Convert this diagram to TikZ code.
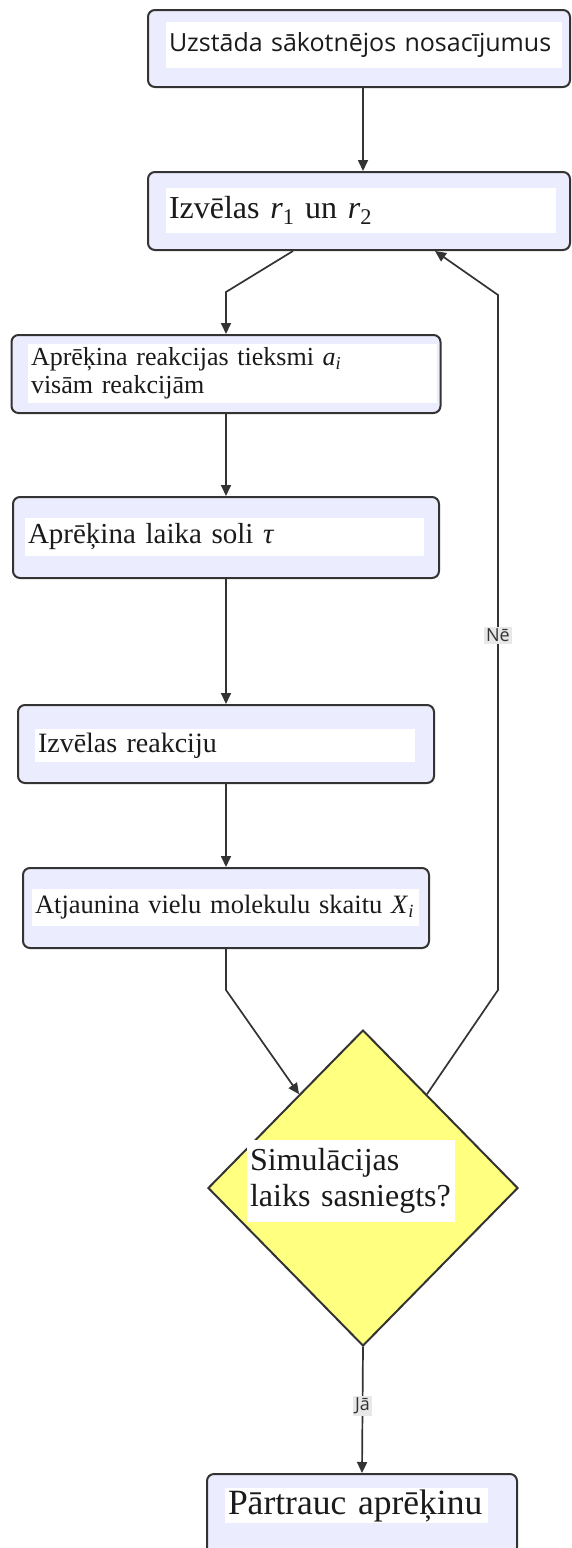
\documentclass[tikz,border=0pt]{standalone}
\usepackage{fontspec}
\setmainfont{Liberation Serif}
\newfontfamily\uisans{Open Sans}
\usetikzlibrary{arrows.meta, positioning, shapes.geometric, calc}

\definecolor{boxfill}{HTML}{ECECFF}
\definecolor{edgegray}{HTML}{333333}
\definecolor{diafill}{HTML}{FFFF80}
\definecolor{lblgray}{HTML}{E8E8E8}
\definecolor{textblack}{HTML}{1A1A1A}

% italic variable with subscript
\newcommand{\ivar}[2]{\textit{#1}\textsubscript{#2}}

\begin{document}
\begin{tikzpicture}[x=1pt, y=-1pt,
  bx/.style={draw=edgegray, fill=boxfill, line width=2pt,
             rounded corners=7pt, inner sep=0pt},
  tx/.style={fill=white, inner xsep=3pt, inner ysep=0pt,
             align=left, text=textblack},
  flow/.style={draw=edgegray, line width=1.7pt,
               -{Triangle[length=11pt, width=10pt]}},
  lbl/.style={fill=lblgray, text=edgegray, inner sep=2pt,
              font=\uisans\fontsize{18}{20}\selectfont}
]
\useasboundingbox (0,0) rectangle (571,1548);

% Process boxes
\node[bx, minimum width=422pt, minimum height=77pt] (start) at (359,48.5) {};
\node[bx, minimum width=422pt, minimum height=78pt] (pick)  at (359,211) {};
\node[bx, minimum width=429pt, minimum height=78pt] (rates) at (226,374) {};
\node[bx, minimum width=426pt, minimum height=81pt] (tau)   at (226,537.5) {};
\node[bx, minimum width=416pt, minimum height=78pt] (pickr) at (226,744) {};
\node[bx, minimum width=406pt, minimum height=80pt] (upd)   at (226,908) {};
\node[bx, minimum width=310pt, minimum height=80pt] (stop)  at (362,1514) {};

% Decision
\node[draw=edgegray, fill=diafill, line width=2pt, diamond,
      minimum width=310pt, minimum height=316pt, inner sep=0pt]
  (decision) at (363,1188) {};

% Texts
\node[tx, text width=390pt, minimum height=46pt,
      font=\uisans\fontsize{25}{28}\selectfont] (start-t) at (364,45)
  {Uzstāda sākotnējos nosacījumus};
\node[tx, text width=384pt, minimum height=45pt,
      font=\fontsize{32}{36}\selectfont] (pick-t) at (361,210.5)
  {Izvēlas \ivar{r}{1} un \ivar{r}{2}};
\node[tx, text width=403pt, minimum height=59pt,
      font=\fontsize{26}{28}\selectfont] (rates-t) at (232.5,373.5)
  {Aprēķina reakcijas tieksmi \ivar{a}{\textit{i}}\\visām reakcijām};
\node[tx, text width=393pt, minimum height=38pt,
      font=\fontsize{29}{32}\selectfont] (tau-t) at (224.5,537)
  {Aprēķina laika soli \textit{τ}};
\node[tx, text width=374pt, minimum height=33pt,
      font=\fontsize{28}{31}\selectfont] (pickr-t) at (225,745.5)
  {Izvēlas reakciju};
\node[tx, text width=381pt, minimum height=37pt,
      font=\fontsize{26.5}{30}\selectfont] (upd-t) at (225.5,907.5)
  {Atjaunina vielu molekulu skaitu \ivar{X}{\textit{i}}};
\node[tx, text width=202pt, minimum height=82pt,
      font=\fontsize{32}{36}\selectfont] (decision-t) at (351,1181)
  {\mbox{Simulācijas}\\\mbox{laiks sasniegts?}};
\node[tx, text width=257pt, minimum height=35pt,
      font=\fontsize{35.5}{38}\selectfont] (stop-t) at (356.5,1505.5)
  {\mbox{Pārtrauc aprēķinu}};

% Bends
\coordinate (k1) at (226,292);
\coordinate (k2) at (226,990);
\coordinate (k3) at (498,990);
\coordinate (k4) at (498,295);

% Connectors
\draw[flow] ([xshift=4pt]start.south) -- ([xshift=4pt]pick.north);
\draw[flow] ([xshift=-66pt]pick.south) -- (k1) -- (rates.north);
\draw[flow] (rates.south) -- (rates.south |- tau.north);
\draw[flow] (tau.south) -- (tau.south |- pickr.north);
\draw[flow] (pickr.south) -- (pickr.south |- upd.north);
\draw[flow] (upd.south) -- (k2) -- ($(decision.north)!0.41!(decision.west)$);
\draw[flow] ($(decision.north)!0.41!(decision.east)$) -- (k3)
  -- node[lbl, pos=0.51]{Nē} (k4) -- ([xshift=76pt]pick.south);
\draw[flow] (decision.south) -- node[lbl, pos=0.47]{Jā} (stop.north);
\end{tikzpicture}
\end{document}
